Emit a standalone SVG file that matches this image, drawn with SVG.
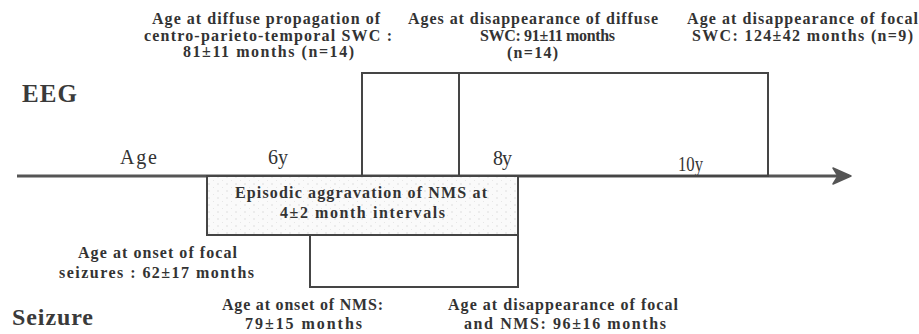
<svg xmlns="http://www.w3.org/2000/svg" width="919" height="334" viewBox="0 0 919 334">
  <defs>
    <style>
      .t { font-family: "Liberation Serif", "Times New Roman", serif; font-weight: bold; font-size: 16px; fill: #333; }
      .big { font-family: "Liberation Serif", "Times New Roman", serif; font-weight: bold; font-size: 25px; fill: #3a3a3a; }
      .tick { font-family: "Liberation Serif", "Times New Roman", serif; font-size: 20px; fill: #333; }
      .box { fill: none; stroke: #454545; stroke-width: 2; }
      .axis { stroke: #555; stroke-width: 3; fill: none; }
    </style>
    <pattern id="dots" width="9" height="7" patternUnits="userSpaceOnUse">
      <rect width="9" height="7" fill="#fafafa"/>
      <circle cx="2" cy="2" r="0.7" fill="#d4d4d4"/>
      <circle cx="6.5" cy="5.5" r="0.5" fill="#e0e0e0"/>
    </pattern>
    <marker id="arrow" markerUnits="userSpaceOnUse" markerWidth="24" markerHeight="24" viewBox="-20 -12 24 24" refX="0" refY="0" orient="auto">
      <path d="M2,0 L-16,-8 L-11,0 L-16,8 Z" fill="#555" stroke="#555" stroke-width="1.5" stroke-linejoin="round"/>
    </marker>
  </defs>
  <rect width="919" height="334" fill="#ffffff"/>

  <g id="connectors">
    <line id="age-axis" class="axis" x1="17" y1="176" x2="849" y2="176" marker-end="url(#arrow)"/>
  </g>

  <g id="eeg-label">
    <text class="big" x="22" y="102" textLength="55" lengthAdjust="spacing">EEG</text>
  </g>
  <g id="seizure-label">
    <text class="big" x="12" y="325" style="font-size:24px" textLength="81" lengthAdjust="spacing">Seizure</text>
  </g>

  <g id="age-ticks">
    <text class="tick" x="120" y="164" textLength="37" lengthAdjust="spacing">Age</text>
    <text class="tick" x="268" y="164" textLength="20" lengthAdjust="spacing">6y</text>
    <text class="tick" x="493" y="165" textLength="19" lengthAdjust="spacing">8y</text>
    <text class="tick" x="678" y="171" textLength="25" lengthAdjust="spacingAndGlyphs">10y</text>
  </g>

  <g id="eeg-periods">
    <rect class="box" x="362" y="73" width="406" height="103"/>
    <line class="box" x1="459" y1="73" x2="459" y2="176"/>
  </g>

  <g id="diffuse-propagation">
    <text class="t" x="152" y="24" textLength="228" lengthAdjust="spacing">Age at diffuse propagation of</text>
    <text class="t" x="144" y="41" textLength="248" lengthAdjust="spacing">centro-parieto-temporal SWC :</text>
    <text class="t" x="183" y="57" textLength="171" lengthAdjust="spacing">81±11 months (n=14)</text>
  </g>
  <g id="diffuse-disappearance">
    <text class="t" x="408" y="24" textLength="250" lengthAdjust="spacing">Ages at disappearance of diffuse</text>
    <text class="t" x="480" y="41" textLength="135" lengthAdjust="spacing">SWC: 91±11 months</text>
    <text class="t" x="507" y="58" textLength="51" lengthAdjust="spacing">(n=14)</text>
  </g>
  <g id="focal-disappearance">
    <text class="t" x="687" y="24" textLength="231" lengthAdjust="spacing">Age at disappearance of focal</text>
    <text class="t" x="692" y="41" textLength="221" lengthAdjust="spacing">SWC: 124±42 months (n=9)</text>
  </g>

  <g id="episodic-aggravation">
    <rect x="207" y="176" width="311" height="59" fill="url(#dots)" stroke="#454545" stroke-width="2"/>
    <text class="t" x="235" y="198" textLength="252" lengthAdjust="spacing">Episodic aggravation of NMS at</text>
    <text class="t" x="280" y="218" textLength="165" lengthAdjust="spacing">4±2 month intervals</text>
  </g>
  <g id="nms-period">
    <rect class="box" x="310" y="235" width="208" height="52"/>
  </g>

  <g id="focal-onset">
    <text class="t" x="78" y="258" textLength="159" lengthAdjust="spacing">Age at onset of focal</text>
    <text class="t" x="59" y="278" textLength="195" lengthAdjust="spacing">seizures : 62±17 months</text>
  </g>
  <g id="nms-onset">
    <text class="t" x="222" y="310" textLength="161" lengthAdjust="spacing">Age at onset of NMS:</text>
    <text class="t" x="245" y="329" textLength="117" lengthAdjust="spacing">79±15 months</text>
  </g>
  <g id="focal-nms-disappearance">
    <text class="t" x="448" y="310" textLength="230" lengthAdjust="spacing">Age at disappearance of focal</text>
    <text class="t" x="464" y="329" textLength="202" lengthAdjust="spacing">and NMS: 96±16 months</text>
  </g>
</svg>
